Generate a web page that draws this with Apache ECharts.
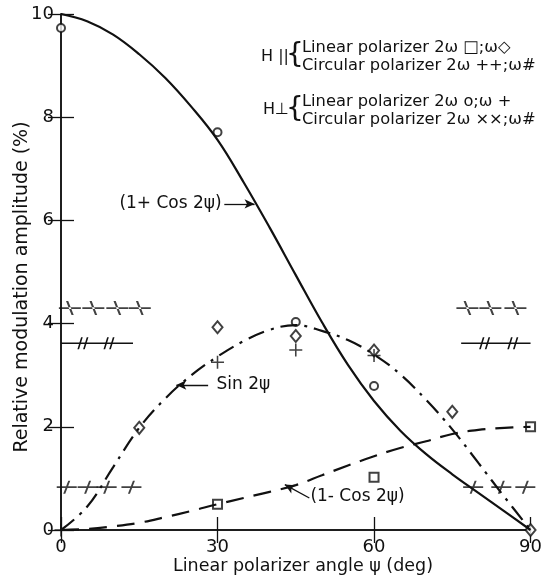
<!DOCTYPE html>
<html>
<head>
<meta charset="utf-8">
<script src="https://cdn.jsdelivr.net/npm/echarts@6/dist/echarts.min.js"></script>
<style>
html, body { margin: 0; padding: 0; background: #fff; }
#chart { width: 545px; height: 577px; }
</style>
</head>
<body>
<div id="chart"></div>
<script>
// values
var angles      = [0, 5, 10, 15, 20, 25, 30, 35, 40, 45, 50, 55, 60, 65, 70, 75, 80, 85, 90];
var onePlusCos  = [10, 9.86, 9.6, 9.22, 8.76, 8.2, 7.56, 6.74, 5.86, 4.94, 4.03, 3.2, 2.5, 1.93, 1.47, 1.08, 0.72, 0.36, 0];
var sinTwoPsi   = [0, 0.45, 1.22, 1.98, 2.55, 3.0, 3.36, 3.66, 3.88, 3.97, 3.86, 3.68, 3.4, 3.02, 2.52, 1.95, 1.3, 0.64, 0];
var oneMinusCos = [0, 0.02, 0.07, 0.14, 0.25, 0.37, 0.5, 0.62, 0.74, 0.87, 1.06, 1.25, 1.43, 1.59, 1.72, 1.86, 1.94, 1.98, 2.0];

var perpLin2w  = [[0, 9.73], [30, 7.71], [45, 4.03], [60, 2.79]];              // circles
var parLinW    = [[15, 1.98], [30, 3.93], [45, 3.76], [60, 3.48], [75, 2.29], [90, 0]]; // diamonds
var parLin2w   = [[30, 0.5], [60, 1.02], [90, 2.0]];                            // squares
var perpLinW   = [[0, 0], [30, 3.25], [45, 3.49], [60, 3.38]];                  // plus
var perpCirc2w = [[1.7, 4.3], [6.2, 4.3], [10.8, 4.3], [15.1, 4.3], [77.9, 4.3], [82.3, 4.3], [87.1, 4.3]];
var parCirc2w  = [[1.1, 0.83], [5.1, 0.83], [8.75, 0.83], [13.5, 0.83], [79, 0.83], [84.4, 0.83], [89, 0.83]];
var circWLeft  = [[0, 3.62], [4.2, 3.62], [9.2, 3.62], [13.8, 3.62]];
var circWRight = [[76.7, 3.62], [81.2, 3.62], [86.6, 3.62], [90, 3.62]];

var font = 'DejaVu Sans';
var ink = '#111';

function pairs(xs, ys) {
  return xs.map(function (x, i) { return [x, ys[i]]; });
}
// line ends carry no symbol, inner points carry the hash mark
function hashLine(pts) {
  return pts.map(function (p, i) {
    if (i === 0 || i === pts.length - 1) return { value: p, symbol: 'none' };
    return { value: p };
  });
}

var plusPath   = 'path://M-0.12,-1H0.12V-0.12H1V0.12H0.12V1H-0.12V0.12H-1V-0.12H-0.12Z';
var slashCross = 'path://M-10,-0.9H10V0.9H-10Z M-3.5,7L1.5,-7L3.5,-7L-1.5,7Z';
var backCross  = 'path://M-10,-0.9H10V0.9H-10Z M-3.5,-7L1.5,7L3.5,7L-1.5,-7Z';
var hashPath   = 'path://M-6,6L-2,-6L-0.2,-6L-4.2,6Z M0.2,6L4.2,-6L6,-6L2,6Z';

var axisBase = {
  type: 'value',
  axisLine: { show: true, lineStyle: { color: ink, width: 1.5 } },
  axisTick: { show: true, inside: true, length: 13, lineStyle: { color: ink, width: 1.3 } },
  splitLine: { show: false }
};

var chart = echarts.init(document.getElementById('chart'));

var option = {
  animation: false,
  grid: { left: 61, right: 14, top: 14, bottom: 47 },
  xAxis: [
    Object.assign({}, axisBase, {
      min: 0, max: 90, interval: 30, position: 'bottom',
      axisLabel: { color: ink, fontSize: 18, fontFamily: font, margin: 8 }
    }),
    Object.assign({}, axisBase, {
      min: 0, max: 90, interval: 30, position: 'top',
      axisLabel: { show: false }
    })
  ],
  yAxis: [
    Object.assign({}, axisBase, {
      min: 0, max: 10, interval: 2, position: 'left',
      axisLabel: { color: ink, fontSize: 18, fontFamily: font, margin: 7 }
    }),
    Object.assign({}, axisBase, {
      min: 0, max: 10, interval: 2, position: 'right',
      axisLabel: { show: false }
    })
  ],
  series: [
    {
      type: 'line', data: pairs(angles, onePlusCos), smooth: 0.4, symbol: 'none',
      lineStyle: { color: ink, width: 2.2 },
      markLine: {
        silent: true, symbol: ['none', 'arrow'], symbolSize: [7, 10],
        label: { show: false },
        lineStyle: { color: ink, width: 1.3, type: 'solid' },
        data: [
          [{ coord: [31.3, 6.32] }, { coord: [37.1, 6.32] }],
          [{ coord: [28.2, 2.81] }, { coord: [22.1, 2.81] }],
          [{ coord: [47.6, 0.62] }, { coord: [42.9, 0.88] }]
        ]
      }
    },
    {
      type: 'line', data: pairs(angles, sinTwoPsi), smooth: 0.4, symbol: 'none',
      lineStyle: { color: ink, width: 2.2, type: [17, 7, 3, 7] }
    },
    {
      type: 'line', data: pairs(angles, oneMinusCos), smooth: 0.4, symbol: 'none',
      lineStyle: { color: ink, width: 2.2, type: [18, 10] }
    },
    {
      type: 'scatter', data: perpLin2w, symbol: 'emptyCircle', symbolSize: 8,
      itemStyle: { color: ink, borderWidth: 1.4 }
    },
    {
      type: 'scatter', data: parLinW, symbol: 'emptyDiamond', symbolSize: [10, 12],
      itemStyle: { color: ink, borderWidth: 1.4 }
    },
    {
      type: 'scatter', data: parLin2w, symbol: 'emptyRect', symbolSize: 9,
      itemStyle: { color: ink, borderWidth: 1.4 }
    },
    {
      type: 'scatter', data: perpLinW, symbol: plusPath, symbolSize: 13,
      itemStyle: { color: ink }
    },
    {
      type: 'scatter', data: perpCirc2w, symbol: backCross, symbolSize: [22, 14],
      itemStyle: { color: ink }
    },
    {
      type: 'scatter', data: parCirc2w, symbol: slashCross, symbolSize: [20, 13],
      itemStyle: { color: ink }
    },
    {
      type: 'line', data: hashLine(circWLeft), symbol: hashPath, symbolSize: [11, 12],
      lineStyle: { color: ink, width: 1.6 }, itemStyle: { color: ink }
    },
    {
      type: 'line', data: hashLine(circWRight), symbol: hashPath, symbolSize: [11, 12],
      lineStyle: { color: ink, width: 1.6 }, itemStyle: { color: ink }
    }
  ]
};
chart.setOption(option);

// text annotations, anchored in data coordinates
function at(x, y) { return chart.convertToPixel({ gridIndex: 0 }, [x, y]); }
function txt(p, s, size, align, extra) {
  return Object.assign({
    type: 'text', x: p[0], y: p[1],
    style: { text: s, fill: ink, font: size + 'px "' + font + '"', textAlign: align, textVerticalAlign: 'middle' }
  }, extra || {});
}

var p1 = at(30.8, 6.32), p2 = at(29.8, 2.81), p3 = at(47.8, 0.64);

chart.setOption({
  graphic: [
    txt(p1, '(1+ Cos 2\u03c8)', 17, 'right'),
    txt(p2, 'Sin 2\u03c8', 17, 'left'),
    txt(p3, '(1- Cos 2\u03c8)', 17, 'left'),
    txt([0, 0], 'Relative modulation amplitude (%)', 19, 'center', { rotation: Math.PI / 2, x: 22, y: 287 }),
    txt([303, 566], 'Linear polarizer angle \u03c8 (deg)', 17.5, 'center'),
    txt([275, 57], 'H ||', 16, 'center'),
    txt([295, 56], '{', 28, 'center'),
    txt([302, 48], 'Linear polarizer 2\u03c9 \u25a1;\u03c9\u25c7', 16.3, 'left'),
    txt([302, 66], 'Circular polarizer 2\u03c9 ++;\u03c9#', 16.3, 'left'),
    txt([276, 110], 'H\u22a5', 16, 'center'),
    txt([295, 110], '{', 28, 'center'),
    txt([302, 102], 'Linear polarizer 2\u03c9 o;\u03c9 +', 16.3, 'left'),
    txt([302, 120], 'Circular polarizer 2\u03c9 \u00d7\u00d7;\u03c9#', 16.3, 'left')
  ]
});
</script>
</body>
</html>
